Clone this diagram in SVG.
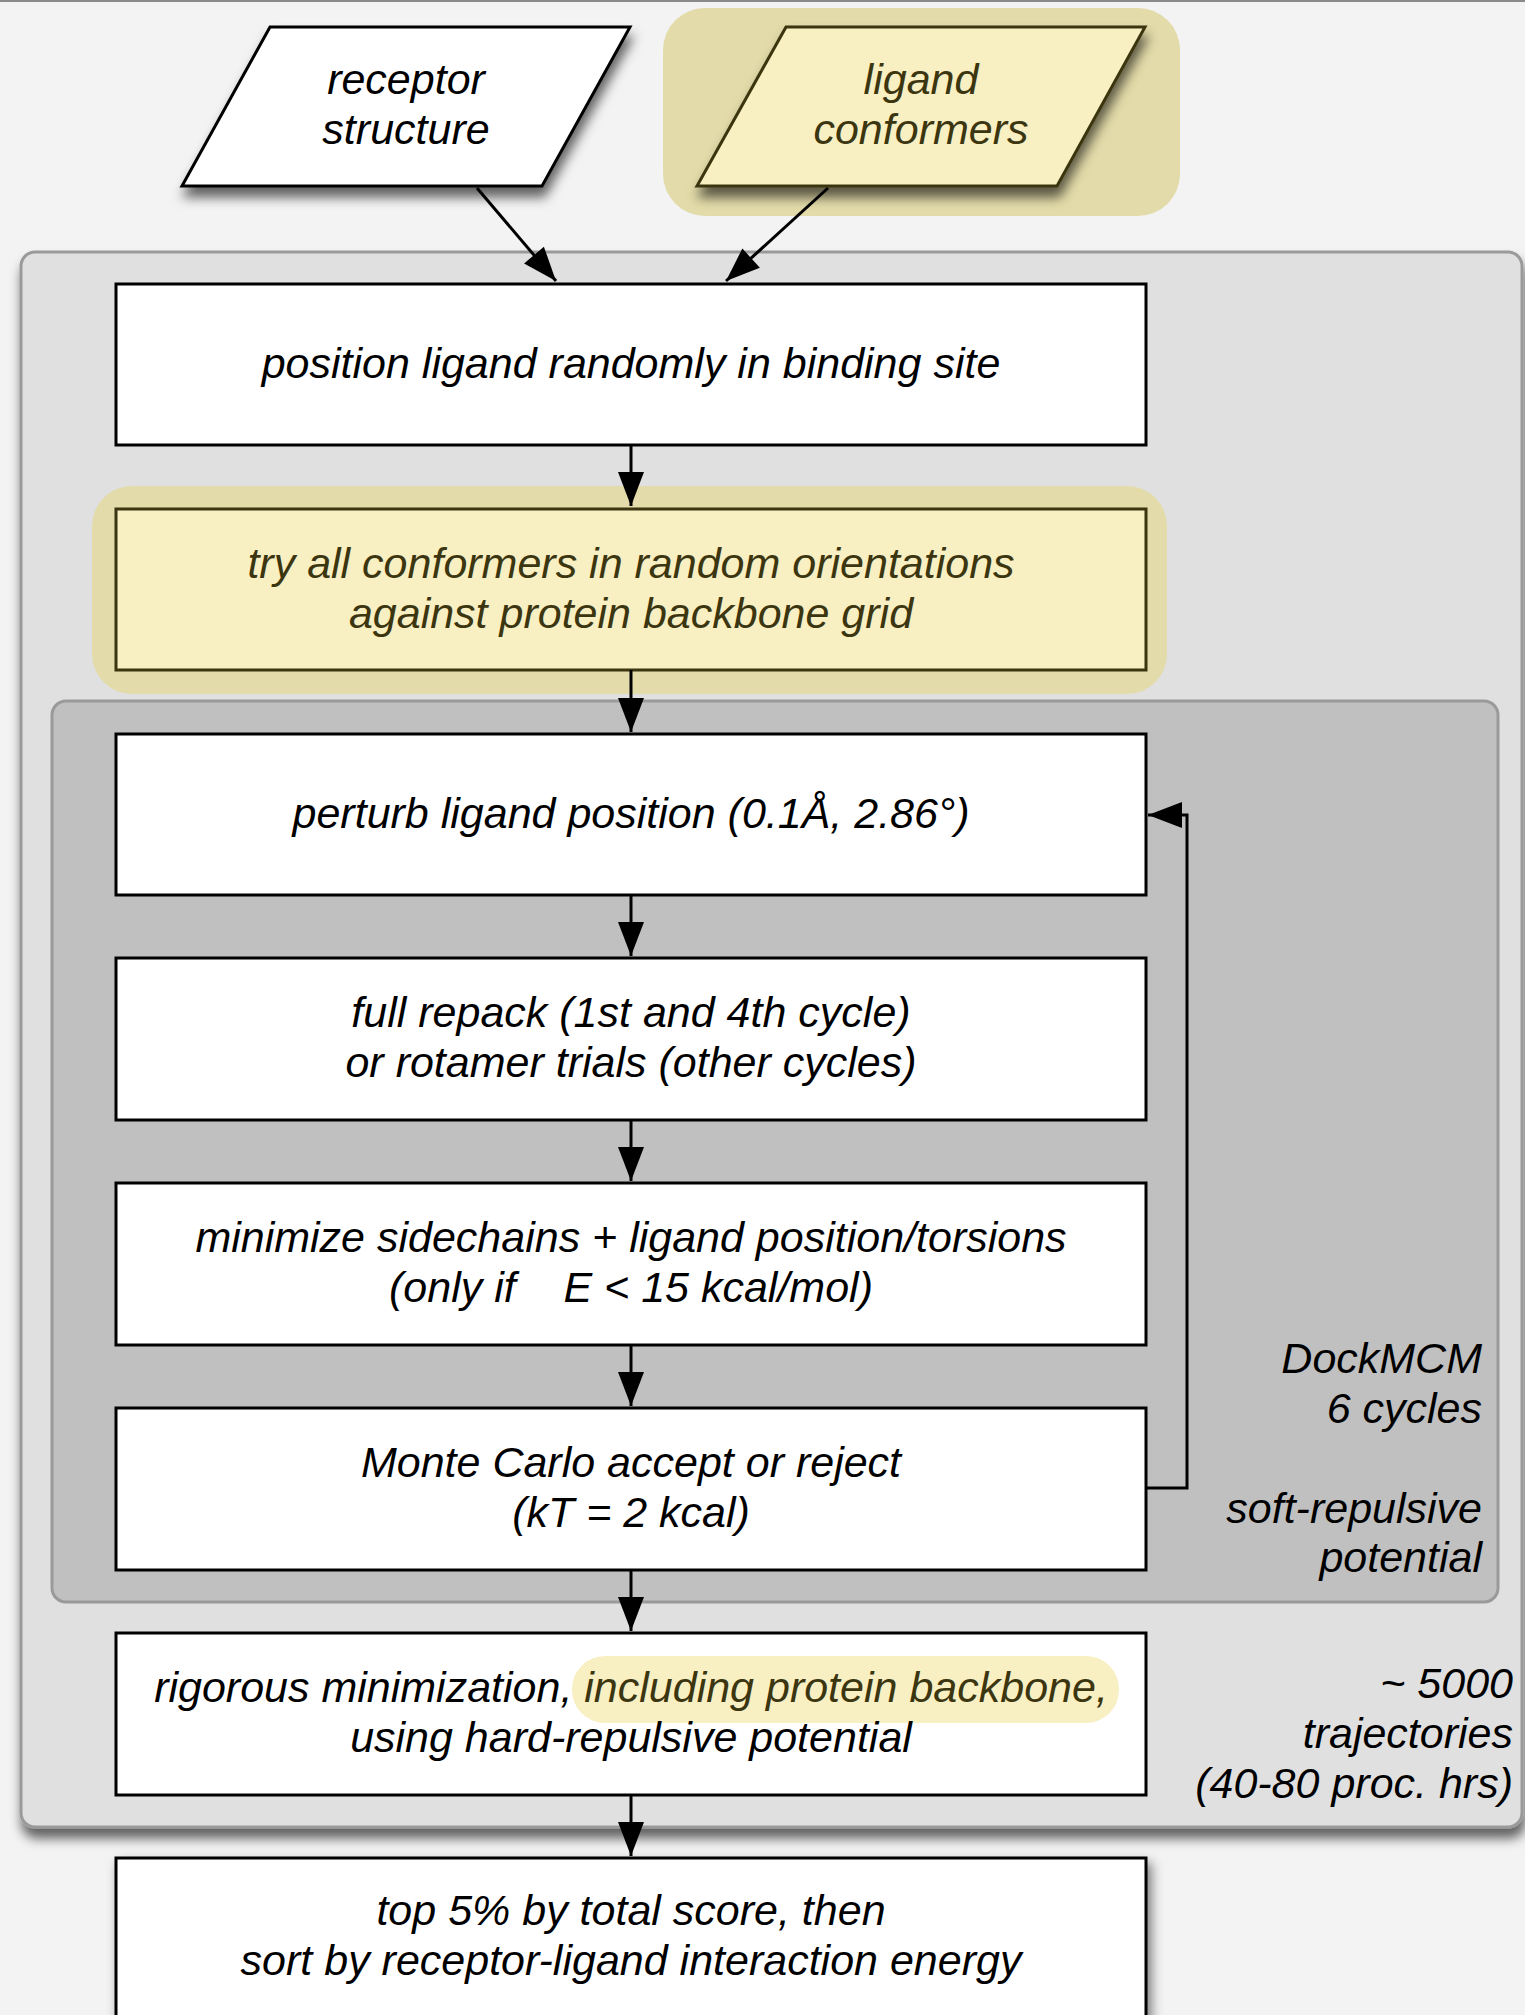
<svg xmlns="http://www.w3.org/2000/svg" width="1525" height="2015" viewBox="0 0 1525 2015">
<defs>
<style>
.t{font-family:"Liberation Sans",Arial,sans-serif;font-style:italic;font-size:43px;fill:#000;text-anchor:middle}
.tr{text-anchor:end}
.olive{fill:#3b3510}
.box{fill:#fff;stroke:#000;stroke-width:3}
.ybox{fill:#f8efc2;stroke:#3b3510;stroke-width:3}
.halo{fill:#e3dba9}
.conn{fill:none;stroke:#000;stroke-width:3}
</style>
<marker id="ah" markerUnits="userSpaceOnUse" markerWidth="36" markerHeight="28" viewBox="0 0 36 28" refX="35" refY="14" orient="auto">
<path d="M1,1 L35,14 L1,27 z" fill="#000"/>
</marker>
<filter id="sh" x="-10%" y="-10%" width="130%" height="140%">
<feDropShadow dx="2" dy="10" stdDeviation="6" flood-color="#000" flood-opacity="0.6"/>
</filter>
<filter id="sh2" x="-10%" y="-10%" width="130%" height="130%">
<feDropShadow dx="4" dy="6" stdDeviation="6" flood-color="#000" flood-opacity="0.5"/>
</filter>
</defs>
<rect x="0" y="0" width="1525" height="2015" fill="#f3f3f3"/>
<rect x="0" y="0" width="1525" height="2" fill="#8a8a8a"/>

<g id="outer-group">
<rect x="21" y="252" width="1501" height="1575" rx="14" fill="#e0e0e0" stroke="#9a9a9a" stroke-width="3" filter="url(#sh)"/>
<text class="t tr" x="1513" y="1698">~ 5000</text>
<text class="t tr" x="1513" y="1748">trajectories</text>
<text class="t tr" x="1513" y="1798">(40-80 proc. hrs)</text>
</g>

<g id="dockmcm-group">
<rect x="52" y="701" width="1446" height="901" rx="14" fill="#bfc0bf" stroke="#9a9a9a" stroke-width="3"/>
<text class="t tr" x="1482" y="1373">DockMCM</text>
<text class="t tr" x="1482" y="1423">6 cycles</text>
<text class="t tr" x="1482" y="1523">soft-repulsive</text>
<text class="t tr" x="1482" y="1572">potential</text>
</g>

<g id="receptor">
<polygon points="270,27 630,27 542,186 182,186" class="box" filter="url(#sh)"/>
<text class="t" x="406" y="94">receptor</text>
<text class="t" x="406" y="144">structure</text>
</g>

<g id="ligand">
<rect x="663" y="8" width="517" height="208" rx="42" class="halo"/>
<polygon points="786,27 1145,27 1057,186 697,186" class="ybox" filter="url(#sh)"/>
<text class="t olive" x="921" y="94">ligand</text>
<text class="t olive" x="921" y="144">conformers</text>
</g>

<g id="position">
<rect x="116" y="284" width="1030" height="161" class="box"/>
<text class="t" x="631" y="378">position ligand randomly in binding site</text>
</g>

<g id="try-conformers">
<rect x="92" y="486" width="1075" height="208" rx="40" class="halo"/>
<rect x="116" y="509" width="1030" height="161" class="ybox"/>
<text class="t olive" x="631" y="578">try all conformers in random orientations</text>
<text class="t olive" x="631" y="628">against protein backbone grid</text>
</g>

<g id="perturb">
<rect x="116" y="734" width="1030" height="161" class="box"/>
<text class="t" x="631" y="828">perturb ligand position (0.1Å, 2.86°)</text>
</g>

<g id="repack">
<rect x="116" y="958" width="1030" height="162" class="box"/>
<text class="t" x="631" y="1027">full repack (1st and 4th cycle)</text>
<text class="t" x="631" y="1077">or rotamer trials (other cycles)</text>
</g>

<g id="minimize">
<rect x="116" y="1183" width="1030" height="162" class="box"/>
<text class="t" x="631" y="1252">minimize sidechains + ligand position/torsions</text>
<text class="t" x="631" y="1302" xml:space="preserve">(only if    E &lt; 15 kcal/mol)</text>
</g>

<g id="monte-carlo">
<rect x="116" y="1408" width="1030" height="162" class="box"/>
<text class="t" x="631" y="1477">Monte Carlo accept or reject</text>
<text class="t" x="631" y="1527">(kT = 2 kcal)</text>
</g>

<g id="rigorous">
<rect x="116" y="1633" width="1030" height="162" class="box"/>
<rect x="572" y="1656" width="547" height="67" rx="33" fill="#f8efc2"/>
<text class="t" x="631" y="1702">rigorous minimization, <tspan class="olive">including protein backbone,</tspan></text>
<text class="t" x="631" y="1752">using hard-repulsive potential</text>
</g>

<g id="top-five">
<rect x="116" y="1858" width="1030" height="170" class="box" filter="url(#sh2)"/>
<text class="t" x="631" y="1925">top 5% by total score, then</text>
<text class="t" x="631" y="1975">sort by receptor-ligand interaction energy</text>
</g>

<g id="connectors">
<line x1="477" y1="188" x2="556" y2="281" class="conn" marker-end="url(#ah)"/>
<line x1="828" y1="188" x2="726" y2="281" class="conn" marker-end="url(#ah)"/>
<line x1="631" y1="445" x2="631" y2="506" class="conn" marker-end="url(#ah)"/>
<line x1="631" y1="670" x2="631" y2="732" class="conn" marker-end="url(#ah)"/>
<line x1="631" y1="895" x2="631" y2="956" class="conn" marker-end="url(#ah)"/>
<line x1="631" y1="1120" x2="631" y2="1181" class="conn" marker-end="url(#ah)"/>
<line x1="631" y1="1345" x2="631" y2="1406" class="conn" marker-end="url(#ah)"/>
<line x1="631" y1="1570" x2="631" y2="1631" class="conn" marker-end="url(#ah)"/>
<line x1="631" y1="1795" x2="631" y2="1856" class="conn" marker-end="url(#ah)"/>
<polyline points="1146,1488 1187,1488 1187,815 1148,815" class="conn" marker-end="url(#ah)"/>
</g>
</svg>
